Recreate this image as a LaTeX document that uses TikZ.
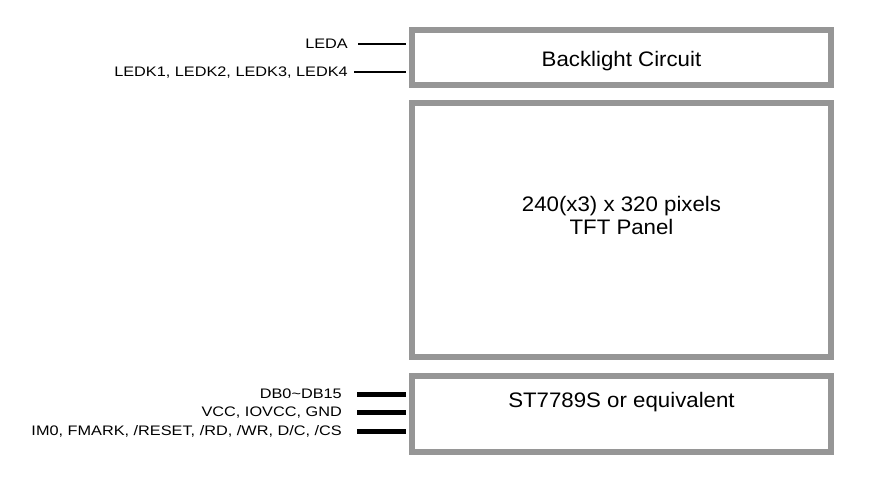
\documentclass[tikz,border=0pt]{standalone}
\usepackage{fontspec}
\setmainfont{Liberation Sans}
\newfontfamily\bigf[FakeStretch=1.06]{Liberation Sans}
\newfontfamily\smallf[FakeStretch=1.18]{Liberation Sans}
\definecolor{boxgray}{RGB}{150,150,150}
\begin{document}
\begin{tikzpicture}[x=1pt,y=-1pt,
  box/.style={draw=boxgray, line width=6pt, rectangle, inner sep=0pt},
  title/.style={font=\bigf\fontsize{21}{23}\selectfont, inner sep=0pt, anchor=base},
  pin/.style={font=\smallf\fontsize{13.8}{15}\selectfont, inner sep=0pt, anchor=east, text height=9.9pt, text depth=0pt},
  thinwire/.style={line width=1.3pt, black},
  buswire/.style={line width=5pt, black}]
\useasboundingbox (0,0) rectangle (873,483);
% boxes
\node[box, minimum width=419pt, minimum height=55pt] (bl) at (621.5,57.5) {};
\node[box, minimum width=419pt, minimum height=254pt] (tft) at (621.5,230) {};
\node[box, minimum width=419pt, minimum height=76pt] (st) at (621.5,414) {};
% box texts
\node[title] (blt) at (621.5,66.5) {Backlight Circuit};
\node[title] (tfta) at (621.5,211) {240(x3) x 320 pixels};
\node[title] (tftb) at (621.5,234) {TFT Panel};
\node[title] (stt) at (621.5,407) {ST7789S or equivalent};
% pin labels
\node[pin] (leda) at (348,44) {LEDA};
\node[pin] (ledk) at (348,72) {LEDK1, LEDK2, LEDK3, LEDK4};
\node[pin] (db) at (342,394) {DB0\char`~DB15};
\node[pin] (vcc) at (342,412) {VCC, IOVCC, GND};
\node[pin] (im) at (342,431) {IM0, FMARK, /RESET, /RD, /WR, D/C, /CS};
% connectors
\draw[thinwire, shorten >=3pt] ([xshift=10pt]leda.east) -- (leda.east -| bl.west);
\draw[thinwire, shorten >=3pt] ([xshift=6pt]ledk.east) -- (ledk.east -| bl.west);
\draw[buswire, shorten >=3pt] ([xshift=15pt]db.east) -- (db.east -| st.west);
\draw[buswire, shorten >=3pt] ([xshift=15pt]vcc.east) -- (vcc.east -| st.west);
\draw[buswire, shorten >=3pt] ([xshift=15pt]im.east) -- (im.east -| st.west);
\end{tikzpicture}
\end{document}
